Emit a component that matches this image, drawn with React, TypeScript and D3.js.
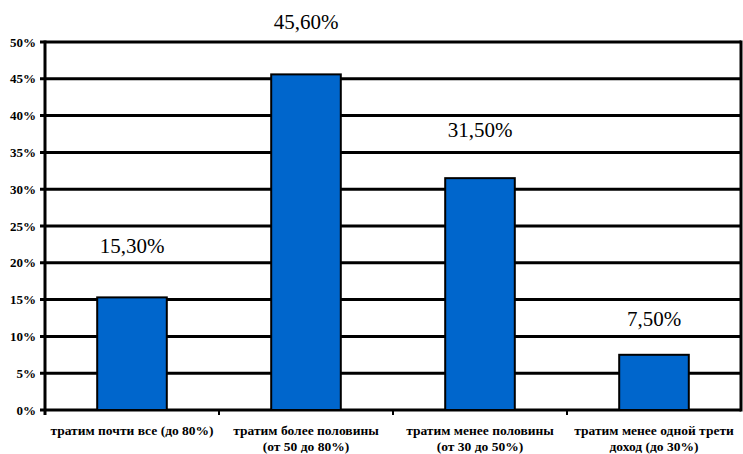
import React from "react";
import * as d3 from "d3";

const categories: string[][] = [
  ["тратим почти все (до 80%)"],
  ["тратим более половины", "(от 50 до 80%)"],
  ["тратим менее половины", "(от 30 до 50%)"],
  ["тратим менее одной трети", "доход (до 30%)"],
];
const values: number[] = [15.3, 45.6, 31.5, 7.5];
const valueLabels: string[] = ["15,30%", "45,60%", "31,50%", "7,50%"];
const yTicks: number[] = [0, 5, 10, 15, 20, 25, 30, 35, 40, 45, 50];

const W = 743;
const H = 454;
const left = 45;
const right = 741;
const top = 42;
const bottom = 410;
// vertical gap between bar top and label baseline (px), as placed in the original
const labelGap = [44, 45, 41, 29];

export default function App() {
  const x = d3
    .scaleBand<number>()
    .domain(d3.range(values.length))
    .range([left, right])
    .paddingInner(0.6)
    .paddingOuter(0.3);
  const xo = d3.scaleBand<number>().domain(d3.range(values.length)).range([left, right]);
  const y = d3.scaleLinear().domain([0, 50]).range([bottom, top]);
  const serif = "'Liberation Serif', 'Times New Roman', serif";

  return (
    <svg width={W} height={H} style={{ display: "block" }} fontFamily={serif}>
      <style>{"body{margin:0}"}</style>
      <rect x={0} y={0} width={W} height={H} fill="#fff" />
      {yTicks.map((t) => (
        <g key={t}>
          <line x1={left - 5} x2={right} y1={y(t)} y2={y(t)} stroke="#000" strokeWidth={3} />
          <text
            x={36}
            y={y(t)}
            dy="0.35em"
            textAnchor="end"
            fontSize={13}
            fontWeight="bold"
          >
            {t}%
          </text>
        </g>
      ))}
      <line x1={left} x2={left} y1={top - 1.5} y2={bottom + 5} stroke="#000" strokeWidth={3} />
      <line x1={right} x2={right} y1={top - 1.5} y2={bottom + 1.5} stroke="#000" strokeWidth={3} />
      {d3.range(1, values.length).map((i) => (
        <line
          key={i}
          x1={xo(i)!}
          x2={xo(i)!}
          y1={bottom}
          y2={bottom + 5}
          stroke="#000"
          strokeWidth={2}
        />
      ))}
      {values.map((v, i) => (
        <g key={i}>
          <rect
            x={x(i)!}
            y={y(v)}
            width={x.bandwidth()}
            height={y(0) - y(v)}
            fill="#0066CC"
            stroke="#000"
            strokeWidth={2}
          />
          <text
            x={x(i)! + x.bandwidth() / 2}
            y={y(v) - labelGap[i]}
            textAnchor="middle"
            fontSize={21}
          >
            {valueLabels[i]}
          </text>
        </g>
      ))}
      {categories.map((lines, i) =>
        lines.map((ln, j) => (
          <text
            key={i + "-" + j}
            x={xo(i)! + xo.bandwidth() / 2}
            y={435 + j * 16}
            textAnchor="middle"
            fontSize={13.5}
            fontWeight="bold"
          >
            {ln}
          </text>
        ))
      )}
    </svg>
  );
}
